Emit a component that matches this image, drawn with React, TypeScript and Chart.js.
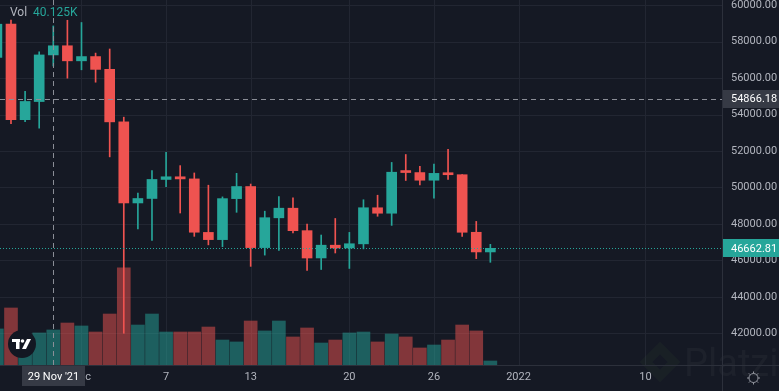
import React, { useEffect, useRef } from "react";
import { Chart, registerables } from "chart.js";

Chart.register(...registerables);

// Daily candles, 25 Nov 2021 .. 30 Dec 2021 (index 0 = 25 Nov)
const dayLabels = [
  "25 Nov", "26 Nov", "27 Nov", "28 Nov", "29 Nov", "30 Nov",
  "1 Dec", "2 Dec", "3 Dec", "4 Dec", "5 Dec", "6 Dec", "7 Dec", "8 Dec", "9 Dec", "10 Dec",
  "11 Dec", "12 Dec", "13 Dec", "14 Dec", "15 Dec", "16 Dec", "17 Dec", "18 Dec", "19 Dec", "20 Dec",
  "21 Dec", "22 Dec", "23 Dec", "24 Dec", "25 Dec", "26 Dec", "27 Dec", "28 Dec", "29 Dec", "30 Dec",
];
const openPrices = [
  57138, 58960, 53723, 54716, 57274, 57777, 56950, 57184, 56485, 53601, 49152, 49397, 50441, 50588,
  50471, 47535, 47140, 49389, 50053, 46702, 48336, 48864, 47632, 46134, 46834, 46682, 46908, 48887,
  48588, 50838, 50819, 50399, 50775, 50701, 47543, 46464,
];
const highPrices = [
  59398, 59183, 55280, 57445, 58865, 59176, 59053, 57375, 57600, 53859, 49699, 50929, 51936, 51200,
  50797, 50125, 49485, 50777, 50189, 48700, 49500, 49436, 47995, 47392, 48300, 47537, 49328, 49576,
  51375, 51810, 51156, 51280, 52088, 50704, 48139, 46880,
];
const lowPrices = [
  57000, 53500, 53610, 53256, 56666, 56000, 56458, 55777, 51680, 42000, 47727, 47100, 50039, 48600,
  47320, 46852, 46751, 48638, 45672, 46290, 46547, 47511, 45456, 45500, 46406, 45558, 46630, 48421,
  47920, 50384, 50142, 49412, 50449, 47313, 46096, 45895,
];
const closePrices = [
  58960, 53726, 54721, 57274, 57776, 56950, 57184, 56480, 53601, 49152, 49396, 50441, 50588, 50471,
  47545, 47140, 49389, 50053, 46702, 48343, 48864, 47632, 46131, 46834, 46681, 46914, 48889, 48588,
  50838, 50820, 50399, 50775, 50701, 47543, 46464, 46662.81,
];
// volume in thousands
const volumes = [
  41.3, 65.3, 33.2, 36.7, 40.125, 48.1, 44.7, 37.8, 58.4, 111.2, 45.8, 58.4, 37.8, 37.8, 37.8, 43.5,
  28.6, 26.4, 50.4, 39.0, 50.4, 32.1, 42.4, 25.2, 28.6, 36.7, 37.8, 26.4, 35.5, 32.1, 19.5, 22.9,
  28.6, 45.8, 39.0, 4.6,
];

const priceTicks = [42000, 44000, 46000, 48000, 50000, 52000, 54000, 56000, 58000, 60000];
const timeTickIndex = [6, 12, 18, 25, 31, 37, 46];
const timeTickLabels = ["Dec", "7", "13", "20", "26", "2022", "10"];

const crosshairIndex = 4;
const crosshairDateLabel = "29 Nov '21";
const crosshairPrice = 54866.18;
const lastPrice = 46662.81;
const volLabel = "40.125K";

const UP = "#26a69a";
const DOWN = "#ef5350";
const UP_VOL = "rgba(38,166,154,0.5)";
const DOWN_VOL = "rgba(239,83,80,0.5)";
const BG = "#151924";
const GRID = "#222632";
const BORDER = "#2c303b";
const TEXT = "#b2b5be";
const FONT = "Roboto, 'Noto Sans', sans-serif";

export default function App() {
  const ref = useRef<HTMLCanvasElement | null>(null);

  useEffect(() => {
    document.body.style.margin = "0";
    document.body.style.background = BG;
    const canvas = ref.current;
    if (!canvas) return;

    const isUp = closePrices.map((c, i) => c >= openPrices[i]);
    const bodies = closePrices.map((c, i) => ({ x: i, y: [openPrices[i], c] }));
    const wicks = closePrices.map((_, i) => ({ x: i, y: [lowPrices[i], highPrices[i]] }));
    const vols = volumes.map((v, i) => ({ x: i, y: v }));

    const decorations = {
      id: "tvDecor",
      beforeDraw(chart: any) {
        const ctx = chart.ctx;
        ctx.save();
        ctx.fillStyle = BG;
        ctx.fillRect(0, 0, chart.width, chart.height);
        ctx.restore();
      },
      beforeDatasetsDraw(chart: any) {
        const ctx = chart.ctx;
        const { left, right, top, bottom } = chart.chartArea;
        const xs = chart.scales.x;
        const ys = chart.scales.y;
        ctx.save();
        ctx.strokeStyle = GRID;
        ctx.lineWidth = 1;
        priceTicks.forEach((p) => {
          const y = Math.round(ys.getPixelForValue(p)) + 0.5;
          ctx.beginPath();
          ctx.moveTo(left, y);
          ctx.lineTo(right, y);
          ctx.stroke();
        });
        timeTickIndex.forEach((t) => {
          const x = Math.round(xs.getPixelForValue(t)) + 0.5;
          ctx.beginPath();
          ctx.moveTo(x, top);
          ctx.lineTo(x, bottom);
          ctx.stroke();
        });
        // faint watermark
        ctx.globalAlpha = 0.035;
        ctx.fillStyle = "#ffffff";
        ctx.font = `38px ${FONT}`;
        ctx.textBaseline = "middle";
        ctx.fillText("Platzi", 684, 366);
        ctx.strokeStyle = "#9be15d";
        ctx.lineWidth = 9;
        ctx.beginPath();
        ctx.moveTo(660, 348);
        ctx.lineTo(674, 362);
        ctx.lineTo(660, 376);
        ctx.lineTo(646, 362);
        ctx.closePath();
        ctx.stroke();
        ctx.restore();
      },
      afterDatasetsDraw(chart: any) {
        const ctx = chart.ctx;
        const { left, right, top, bottom } = chart.chartArea;
        const W = chart.width;
        const H = chart.height;
        const xs = chart.scales.x;
        const ys = chart.scales.y;
        ctx.save();

        // last price dotted line
        const yLast = Math.round(ys.getPixelForValue(lastPrice)) + 0.5;
        ctx.strokeStyle = UP;
        ctx.lineWidth = 1;
        ctx.setLineDash([1, 2]);
        ctx.beginPath();
        ctx.moveTo(left, yLast);
        ctx.lineTo(right, yLast);
        ctx.stroke();

        // crosshair
        const xC = Math.round(xs.getPixelForValue(crosshairIndex)) + 0.5;
        const yC = Math.round(ys.getPixelForValue(crosshairPrice)) + 0.5;
        ctx.strokeStyle = "#8b8e97";
        ctx.setLineDash([5, 4]);
        ctx.beginPath();
        ctx.moveTo(xC, top);
        ctx.lineTo(xC, bottom);
        ctx.stroke();
        ctx.beginPath();
        ctx.moveTo(left, yC);
        ctx.lineTo(right, yC);
        ctx.stroke();
        ctx.setLineDash([]);

        // axis separators
        ctx.strokeStyle = BORDER;
        ctx.beginPath();
        ctx.moveTo(Math.round(right) + 0.5, 0);
        ctx.lineTo(Math.round(right) + 0.5, H);
        ctx.stroke();
        ctx.beginPath();
        ctx.moveTo(0, Math.round(bottom) + 0.5);
        ctx.lineTo(W, Math.round(bottom) + 0.5);
        ctx.stroke();

        // price labels
        ctx.font = `11px ${FONT}`;
        ctx.textBaseline = "middle";
        ctx.textAlign = "left";
        ctx.fillStyle = TEXT;
        priceTicks.forEach((p) => {
          const y = ys.getPixelForValue(p);
          ctx.fillText(p.toFixed(2), right + 9, y);
        });

        // price boxes
        const box = (val: number, color: string) => {
          const y = ys.getPixelForValue(val);
          ctx.fillStyle = color;
          ctx.fillRect(right + 1, Math.round(y) - 9, W - right - 1, 18);
          ctx.fillStyle = "#ffffff";
          ctx.font = `11px ${FONT}`;
          ctx.fillText(val.toFixed(2), right + 9, y + 0.5);
        };
        box(crosshairPrice, "#363a45");
        box(lastPrice, UP);

        // time labels
        ctx.textAlign = "center";
        ctx.fillStyle = TEXT;
        ctx.font = `11px ${FONT}`;
        const yT = bottom + 12;
        timeTickIndex.forEach((t, i) => {
          ctx.fillText(timeTickLabels[i], xs.getPixelForValue(t), yT);
        });

        // crosshair date label
        ctx.fillStyle = "#363a45";
        ctx.fillRect(xC - 31.5, bottom + 1, 63, 20);
        ctx.fillStyle = "#ffffff";
        ctx.fillText(crosshairDateLabel, xC, yT);

        // volume legend
        ctx.textAlign = "left";
        ctx.font = `12px ${FONT}`;
        ctx.fillStyle = TEXT;
        ctx.fillText("Vol", 10, 13);
        ctx.fillStyle = UP;
        ctx.fillText(volLabel, 33, 13);

        // TradingView logo
        ctx.fillStyle = "#131722";
        ctx.beginPath();
        ctx.arc(22, 344, 14, 0, Math.PI * 2);
        ctx.fill();
        ctx.fillStyle = "#ffffff";
        ctx.fillRect(12, 339, 8, 3);
        ctx.fillRect(16, 339, 3.5, 10);
        ctx.beginPath();
        ctx.arc(22.5, 341, 1.8, 0, Math.PI * 2);
        ctx.fill();
        ctx.beginPath();
        ctx.moveTo(27, 339);
        ctx.lineTo(31, 339);
        ctx.lineTo(26, 349);
        ctx.lineTo(22, 349);
        ctx.closePath();
        ctx.fill();

        // settings gear
        ctx.strokeStyle = "#9598a1";
        ctx.lineWidth = 1;
        ctx.beginPath();
        ctx.arc(753.5, 378, 4.5, 0, Math.PI * 2);
        ctx.stroke();
        for (let k = 0; k < 8; k++) {
          const a = (k * Math.PI) / 4;
          ctx.beginPath();
          ctx.moveTo(753.5 + Math.cos(a) * 4.5, 378 + Math.sin(a) * 4.5);
          ctx.lineTo(753.5 + Math.cos(a) * 6.5, 378 + Math.sin(a) * 6.5);
          ctx.stroke();
        }

        ctx.restore();
      },
    };

    const chart = new Chart(canvas, {
      type: "bar",
      data: {
        labels: dayLabels,
        datasets: [
          {
            label: "body",
            data: bodies as any,
            backgroundColor: isUp.map((u) => (u ? UP : DOWN)),
            barThickness: 10,
            minBarLength: 2,
            grouped: false,
            order: 0,
            yAxisID: "y",
          } as any,
          {
            label: "wick",
            data: wicks as any,
            backgroundColor: isUp.map((u) => (u ? UP : DOWN)),
            barThickness: 1,
            grouped: false,
            order: 1,
            yAxisID: "y",
          } as any,
          {
            label: "volume",
            data: vols as any,
            backgroundColor: isUp.map((u) => (u ? UP_VOL : DOWN_VOL)),
            barThickness: 13,
            grouped: false,
            order: 2,
            yAxisID: "yv",
          } as any,
        ],
      },
      options: {
        responsive: false,
        maintainAspectRatio: false,
        animation: false,
        layout: { padding: { left: 0, right: 57, top: 0, bottom: 26 } },
        plugins: { legend: { display: false }, tooltip: { enabled: false } },
        scales: {
          x: { type: "linear", min: 0.22, max: 51.43, display: false, offset: false },
          y: { type: "linear", min: 40260, max: 60288, display: false },
          yv: { type: "linear", min: 0, max: 418, display: false },
        },
      } as any,
      plugins: [decorations],
    });

    return () => chart.destroy();
  }, []);

  return (
    <div style={{ width: 779, height: 391 }}>
      <canvas ref={ref} width={779} height={391} style={{ display: "block", width: 779, height: 391 }} />
    </div>
  );
}
